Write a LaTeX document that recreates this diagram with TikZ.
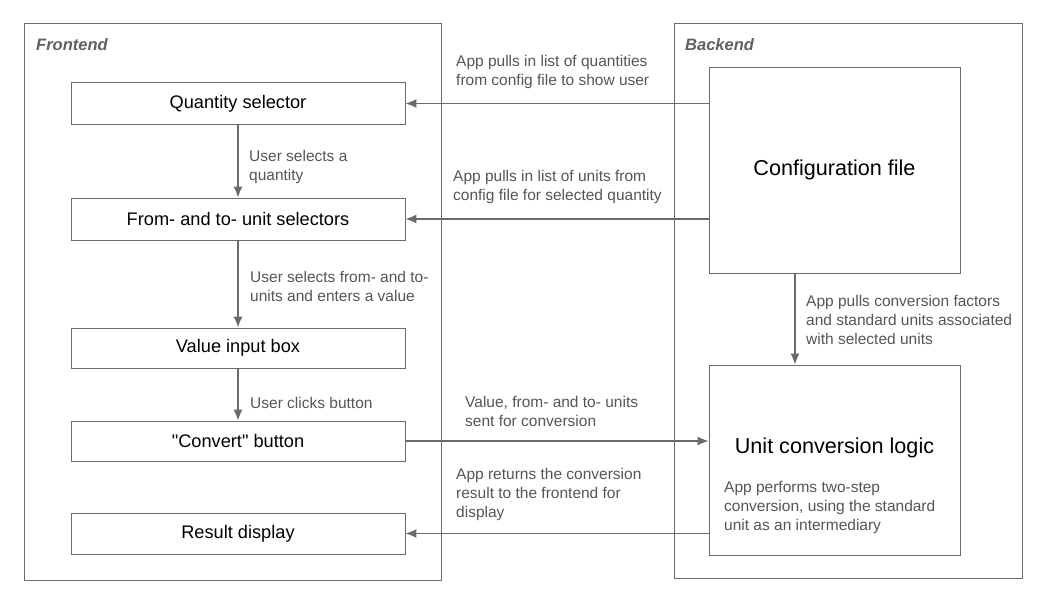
\documentclass[tikz,border=0pt]{standalone}
\usepackage{fontspec}
\setmainfont{Liberation Sans}[Ligatures=TeXOff]
\usetikzlibrary{arrows.meta,positioning}
\definecolor{lineg}{HTML}{6A6A6A}
\definecolor{textg}{HTML}{555555}
\definecolor{titleg}{HTML}{606060}
\begin{document}
\begin{tikzpicture}[x=1pt,y=-1pt,
  panel/.style={draw=lineg,line width=1pt,inner sep=0pt},
  fbox/.style={draw=lineg,line width=0.9pt,minimum width=334pt,minimum height=42pt,inner sep=0pt,font=\fontsize{18.2}{21}\selectfont,text=black},
  bbox/.style={draw=lineg,line width=0.9pt,minimum width=251pt,inner sep=0pt,text=black},
  lbl/.style={font=\fontsize{15.5}{19}\selectfont,text=textg,align=left,inner sep=0pt,anchor=west},
  ttl/.style={font=\fontsize{16.5}{19}\selectfont\bfseries\itshape,text=titleg,inner sep=0pt,anchor=west},
  arr/.style={draw=lineg,line width=1.2pt,-{Latex[length=11pt,width=9pt]}}]
\useasboundingbox (0,0) rectangle (1042,601);
% panels
\node[panel,minimum width=417pt,minimum height=556pt] (front) at (232.5,302) {};
\node[panel,minimum width=348pt,minimum height=554pt] (back) at (848,301) {};
\node[ttl] (ftitle) at (36,45) {Frontend};
\node[ttl] (btitle) at (685,45) {Backend};
% frontend boxes
\node[fbox] (qs) at (238,103.5) {Quantity selector};
\node[fbox] (fu) at (238,219) {From- and to- unit selectors};
\node[fbox,minimum height=40pt] (vb) at (238,348) {Value input box};
\node[fbox,minimum height=40pt] (cb) at (238,441) {"Convert" button};
\node[fbox,minimum height=41pt] (rd) at (238,533.5) {Result display};
% backend boxes
\node[bbox,minimum height=206pt,font=\fontsize{21.6}{25}\selectfont] (cfg) at (834.5,170) {Configuration file};
\node[bbox,minimum height=190pt] (ucl) at (834.5,460) {};
\node[font=\fontsize{21.6}{25}\selectfont,text=black,inner sep=0pt] (ucltitle) at (834.5,448) {Unit conversion logic};
\node[lbl] (ucltext) at (724,507.5) {App performs two-step\\conversion, using the standard\\unit as an intermediary};
% vertical arrows
\draw[arr] (qs.south) -- (fu.north);
\draw[arr] (fu.south) -- (vb.north);
\draw[arr] (vb.south) -- (cb.north);
\coordinate (cfgb) at (795,273);
\draw[arr] (cfgb) -- (cfgb |- ucl.north);
% horizontal arrows
\draw[arr] (cfg.west |- qs.east) -- (qs.east);
\draw[arr] (cfg.west |- fu.east) -- (fu.east);
\draw[arr] (cb.east) -- (ucl.west |- cb.east);
\draw[arr] (ucl.west |- rd.east) -- (rd.east);
% labels
\node[lbl] (l1) at (249,166.5) {User selects a\\quantity};
\node[lbl] (l2) at (250,286.5) {User selects from- and to-\\units and enters a value};
\node[lbl] (l3) at (250,403) {User clicks button};
\node[lbl] (l4) at (456,72) {App pulls in list of quantities\\from config file to show user};
\node[lbl] (l5) at (453,186.5) {App pulls in list of units from\\config file for selected quantity};
\node[lbl] (l6) at (806,319.5) {App pulls conversion factors\\and standard units associated\\with selected units};
\node[lbl] (l7) at (465,411) {Value, from- and to- units\\sent for conversion};
\node[lbl] (l8) at (456,494) {App returns the conversion\\result to the frontend for\\display};
\end{tikzpicture}
\end{document}
